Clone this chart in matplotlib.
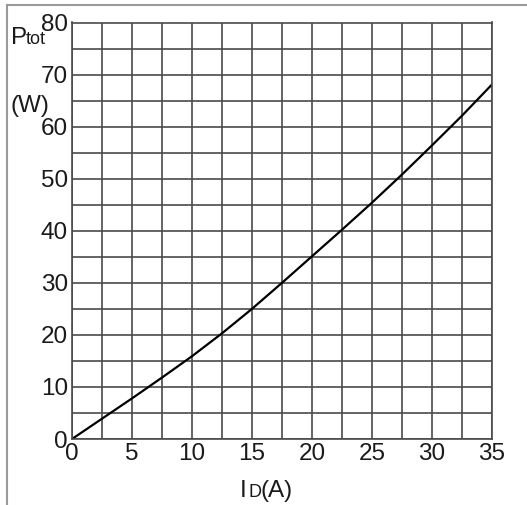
import matplotlib
matplotlib.use("Agg")
import matplotlib.pyplot as plt
from matplotlib.lines import Line2D

# Data
current_a = [0, 2.5, 5, 7.5, 10, 12.5, 15, 17.5, 20, 22.5, 25, 27.5, 30, 32.5, 35]
power_w = [0, 3.9, 7.8, 11.8, 15.9, 20.3, 25.0, 30.0, 35.1, 40.2, 45.4, 50.8, 56.4, 62.1, 68.1]
x_ticks = [0, 5, 10, 15, 20, 25, 30, 35]
y_ticks = [0, 10, 20, 30, 40, 50, 60, 70, 80]

plt.rcParams['font.family'] = ['Liberation Sans', 'DejaVu Sans']

W, H = 527, 505
fig = plt.figure(figsize=(W / 100, H / 100), dpi=100)
ax = fig.add_axes([72 / W, 66 / H, 420 / W, 416.5 / H])

grid_c = '#4a4a4a'
txt_c = '#1a1a1a'
ax.set_xlim(0, 35)
ax.set_ylim(0, 80)
ax.set_xticks(x_ticks)
ax.set_xticks([2.5 + 5 * i for i in range(7)], minor=True)
ax.set_yticks(y_ticks)
ax.set_yticks([5 + 10 * i for i in range(8)], minor=True)
ax.grid(True, which='both', color=grid_c, linewidth=1.2)
ax.tick_params(which='both', length=0)
ax.tick_params(axis='x', pad=3, labelsize=17.5, colors=txt_c)
ax.tick_params(axis='y', pad=3, labelsize=17.5, colors=txt_c)
for s in ax.spines.values():
    s.set_color(grid_c)
    s.set_linewidth(1.2)

ax.plot(current_a, power_w, color='black', linewidth=1.6, solid_capstyle='round')

# Axis labels
fig.text(11 / W, 1 - 44 / H, 'P', fontsize=17.5, color=txt_c, ha='left', va='baseline')
fig.text(26 / W, 1 - 44 / H, 'tot', fontsize=13, color=txt_c, ha='left', va='baseline')
fig.text(11 / W, 1 - 106 / H, '(W)', fontsize=17.5, color=txt_c, ha='left', va='center')

fig.text(240 / W, 1 - 497 / H, 'I', fontsize=17.5, color=txt_c, ha='left', va='baseline')
fig.text(248 / W, 1 - 497 / H, 'D', fontsize=13, color=txt_c, ha='left', va='baseline')
fig.text(260 / W, 1 - 497 / H, '(A)', fontsize=17.5, color=txt_c, ha='left', va='baseline')

# Frame lines at left and top of the picture
fig.add_artist(Line2D([7 / W, 7 / W], [0, 1 - 5 / H], transform=fig.transFigure, color='#9a9a9a', linewidth=1.5))
fig.add_artist(Line2D([7 / W, 1], [1 - 5 / H, 1 - 5 / H], transform=fig.transFigure, color='#9a9a9a', linewidth=1.5))

fig.savefig('out.png', dpi=100, facecolor='white')
